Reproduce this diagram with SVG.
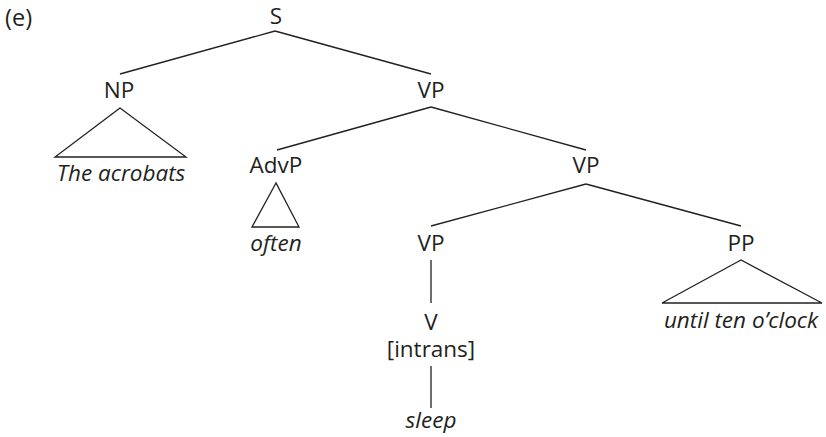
<svg xmlns="http://www.w3.org/2000/svg" width="826" height="437" viewBox="0 0 826 437">
<style>
text{font-family:"Open Sans","Noto Sans","Liberation Sans",sans-serif;font-size:22.5px;fill:#231f20;text-anchor:middle}
.it{font-style:italic}
.ln{stroke:#231f20;stroke-width:1.3;fill:none}
</style>
<rect width="826" height="437" fill="#fff"/>
<text x="5" y="26" style="text-anchor:start;font-size:23.5px">(e)</text>
<g id="connectors" class="ln">
<line x1="275" y1="31" x2="120" y2="74"/>
<line x1="275" y1="31" x2="431" y2="74"/>
<line x1="431" y1="107" x2="277" y2="150"/>
<line x1="431" y1="107" x2="586" y2="150"/>
<line x1="586" y1="184" x2="431" y2="226"/>
<line x1="586" y1="184" x2="741" y2="226"/>
<line x1="431" y1="260" x2="431" y2="303"/>
<line x1="431" y1="366" x2="431" y2="408"/>
</g>
<g id="S"><text x="276" y="24">S</text></g>
<g id="NP"><text x="119" y="98">NP</text>
<polygon class="ln" points="120,108 55,157 186,157"/>
<text class="it" x="121" y="181">The acrobats</text></g>
<g id="VP1"><text x="431" y="98">VP</text></g>
<g id="AdvP"><text x="276" y="173">AdvP</text>
<polygon class="ln" points="276,183 252,227 299,227"/>
<text class="it" x="276" y="251">often</text></g>
<g id="VP2"><text x="586" y="173">VP</text></g>
<g id="VP3"><text x="431" y="251">VP</text></g>
<g id="V"><text x="431" y="330">V<tspan x="431" dy="27">[intrans]</tspan></text></g>
<g id="sleep"><text class="it" x="431" y="428">sleep</text></g>
<g id="PP"><text x="741" y="251">PP</text>
<polygon class="ln" points="741,260 662,303 822,303"/>
<text class="it" x="741" y="328">until ten o’clock</text></g>
</svg>
